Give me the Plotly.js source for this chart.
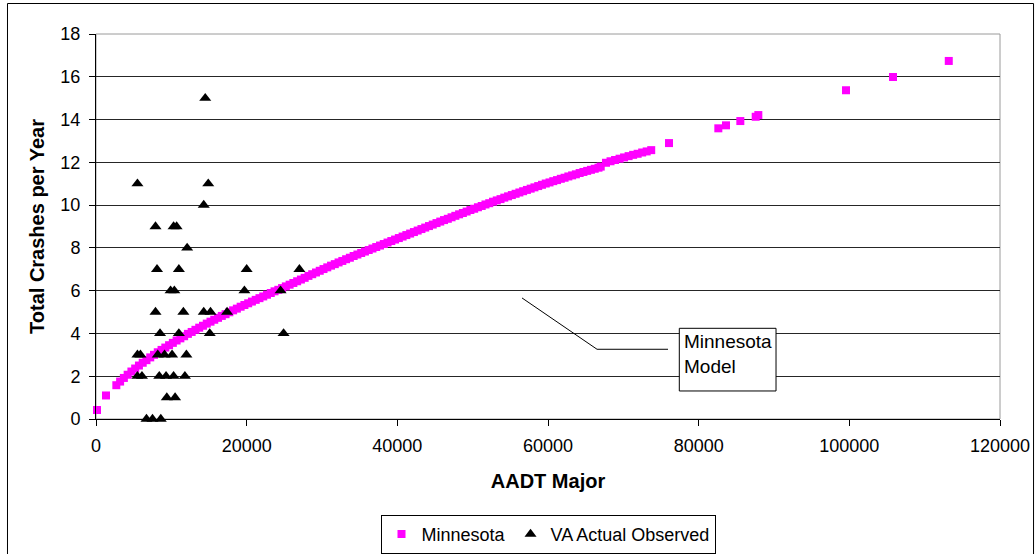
<!DOCTYPE html>
<html>
<head>
<meta charset="utf-8">
<script src="https://cdn.plot.ly/plotly-3.0.1.min.js"></script>
<style>
  html, body { margin: 0; padding: 0; background: #ffffff; }
  #chart { width: 1036px; height: 554px; }
</style>
</head>
<body>
<div id="chart"></div>
<script>
// Minnesota model: predicted total crashes per year against major-road AADT
const mnAadt = [
  130, 1330,
  2700, 3200, 3700, 4200, 4700, 5200, 5700, 6200, 6700, 7200,
  7700, 8200, 8700, 9200, 9700, 10200, 10700, 11200, 11700, 12200,
  12700, 13200, 13700, 14200, 14700, 15200, 15700, 16200, 16700, 17200,
  17700, 18200, 18700, 19200, 19700, 20200, 20700, 21200, 21700, 22200,
  22700, 23200, 23700, 24200, 24700,
  25200, 25700, 26200, 26700, 27200, 27700, 28200, 28700, 29200, 29700,
  30200, 30700, 31200, 31700, 32200, 32700, 33200, 33700, 34200, 34700,
  35200, 35700, 36200, 36700, 37200, 37700, 38200, 38700, 39200, 39700,
  40200, 40700, 41200, 41700, 42200, 42700, 43200, 43700, 44200, 44700,
  45200, 45700, 46200, 46700, 47200, 47700, 48200, 48700, 49200, 49700,
  50200, 50700, 51200, 51700, 52200, 52700, 53200, 53700, 54200, 54700,
  55200, 55700, 56200, 56700, 57200, 57700, 58200, 58700, 59200, 59700,
  60200, 60700, 61200, 61700, 62200, 62700, 63200, 63700, 64200, 64700,
  65200, 65700, 66200, 66700, 67000,
  67700, 68300, 68900, 69500, 70100, 70700, 71300, 71900, 72500, 73100, 73700,
  76060, 82610, 83630, 85530, 87570, 87920, 99560, 105800, 113200
];
const mnCrashes = [
  0.42, 1.10,
  1.58, 1.75, 1.92, 2.07, 2.22, 2.36, 2.50, 2.63, 2.75, 2.88,
  3.00, 3.12, 3.23, 3.34, 3.45, 3.56, 3.67, 3.77, 3.87, 3.98,
  4.07, 4.17, 4.27, 4.36, 4.46, 4.55, 4.64, 4.73, 4.82, 4.90,
  4.99, 5.08, 5.16, 5.25, 5.33, 5.41, 5.49, 5.57, 5.65, 5.73,
  5.81, 5.89, 5.97, 6.04, 6.12,
  6.20, 6.28, 6.36, 6.44, 6.52, 6.60, 6.69, 6.77, 6.85, 6.93,
  7.01, 7.09, 7.17, 7.24, 7.32, 7.39, 7.47, 7.54, 7.62, 7.69,
  7.76, 7.83, 7.90, 7.97, 8.04, 8.11, 8.18, 8.25, 8.32, 8.39,
  8.46, 8.53, 8.60, 8.67, 8.74, 8.81, 8.88, 8.95, 9.02, 9.09,
  9.16, 9.23, 9.30, 9.36, 9.43, 9.50, 9.57, 9.63, 9.70, 9.77,
  9.83, 9.90, 9.96, 10.03, 10.09, 10.16, 10.22, 10.28, 10.35, 10.41,
  10.47, 10.53, 10.59, 10.65, 10.71, 10.77, 10.83, 10.89, 10.95, 11.01,
  11.06, 11.12, 11.17, 11.23, 11.28, 11.34, 11.39, 11.44, 11.50, 11.55,
  11.60, 11.65, 11.70, 11.75, 11.80,
  11.98, 12.05, 12.11, 12.17, 12.23, 12.29, 12.35, 12.40, 12.46, 12.51, 12.57,
  12.90, 13.59, 13.73, 13.93, 14.13, 14.21, 15.37, 15.99, 16.74
];

// Virginia sites: observed crashes per year
const vaAadt = [
  14500,
  5500, 14900,
  14300,
  7900, 10300, 10700,
  12100,
  8100, 11000, 20000, 27000,
  9900, 10400, 19700, 24500,
  7900, 11600, 14300, 15200, 17400,
  8500, 11000, 15100, 24900,
  5500, 5900, 8200, 9100, 10100, 12000,
  5500, 6100, 8400, 9300, 10300, 11800,
  9400, 10500,
  6700, 7500, 8600
];
const vaCrashes = [
  15,
  11, 11,
  10,
  9, 9, 9,
  8,
  7, 7, 7, 7,
  6, 6, 6, 6,
  5, 5, 5, 5, 5,
  4, 4, 4, 4,
  3, 3, 3, 3, 3, 3,
  2, 2, 2, 2, 2, 2,
  1, 1,
  0, 0, 0
];

const xTickVals = [0, 20000, 40000, 60000, 80000, 100000, 120000];
const xTickText = ['0', '20000', '40000', '60000', '80000', '100000', '120000'];
const yTickVals = [0, 2, 4, 6, 8, 10, 12, 14, 16, 18];
const yTickText = ['0', '2', '4', '6', '8', '10', '12', '14', '16', '18'];

// Callout for the model curve: leader line and label box (axis units)
const calloutLine = [[56550, 5.66], [66510, 3.26], [75930, 3.26]];
const calloutBox = { x0: 77430, x1: 90270, y0: 1.31, y1: 4.24 };
const calloutText = 'Minnesota<br>Model';

const FONT = 'Liberation Sans, Arial, sans-serif';

const traces = [
  {
    type: 'scatter',
    mode: 'markers',
    name: 'Minnesota',
    x: mnAadt,
    y: mnCrashes,
    cliponaxis: false,
    marker: { symbol: 'square', size: 8, color: '#ff00ff', line: { width: 0 } }
  },
  {
    type: 'scatter',
    mode: 'markers',
    name: 'VA Actual Observed',
    x: vaAadt,
    y: vaCrashes,
    cliponaxis: false,
    marker: { symbol: 'triangle-up', size: 10.5, color: '#000000', line: { width: 0 } }
  }
];

const leaderPath = 'M' + calloutLine.map(p => p[0] + ',' + p[1]).join(' L');

const layout = {
  width: 1036,
  height: 554,
  margin: { l: 96, r: 36, t: 34, b: 135, pad: 0, autoexpand: false },
  paper_bgcolor: '#ffffff',
  plot_bgcolor: '#ffffff',
  font: { family: FONT, size: 18, color: '#000000' },
  showlegend: true,
  legend: {
    orientation: 'h',
    x: 0.5, xanchor: 'center',
    y: -0.249, yanchor: 'top',
    bgcolor: '#ffffff',
    bordercolor: '#000000',
    borderwidth: 1,
    itemwidth: 30,
    font: { family: FONT, size: 18, color: '#000000' }
  },
  xaxis: {
    range: [0, 120000],
    tickvals: xTickVals,
    ticktext: xTickText,
    ticks: 'outside',
    ticklen: 6,
    tickcolor: '#000000',
    ticklabelstandoff: 4,
    showline: true,
    linecolor: '#000000',
    linewidth: 1,
    showgrid: false,
    zeroline: false,
    tickfont: { family: FONT, size: 18 },
    title: { text: '<b>AADT Major</b>', font: { family: FONT, size: 20 }, standoff: 19 },
    automargin: false
  },
  yaxis: {
    range: [0, 18],
    tickvals: yTickVals,
    ticktext: yTickText,
    ticks: 'outside',
    ticklen: 6,
    tickcolor: '#000000',
    ticklabelstandoff: 5,
    showline: true,
    linecolor: '#000000',
    linewidth: 1,
    showgrid: true,
    gridcolor: '#262626',
    gridwidth: 1,
    zeroline: false,
    tickfont: { family: FONT, size: 18 },
    title: { text: '<b>Total Crashes per Year</b>', font: { family: FONT, size: 20 }, standoff: 10 },
    automargin: false
  },
  shapes: [
    // outer chart frame
    { type: 'rect', xref: 'paper', yref: 'paper', x0: -0.0979, x1: 1.0371, y0: -0.37, y1: 1.0792,
      line: { color: '#000000', width: 1 }, fillcolor: 'rgba(0,0,0,0)', layer: 'below' },
    // plot area frame
    { type: 'rect', xref: 'paper', yref: 'paper', x0: 0, x1: 1, y0: 0, y1: 1,
      line: { color: '#9a9a9a', width: 1 }, fillcolor: 'rgba(0,0,0,0)', layer: 'below' },
    // callout leader
    { type: 'path', xref: 'x', yref: 'y', path: leaderPath,
      line: { color: '#000000', width: 1 }, layer: 'above' },
    // callout box
    { type: 'rect', xref: 'x', yref: 'y',
      x0: calloutBox.x0, x1: calloutBox.x1, y0: calloutBox.y0, y1: calloutBox.y1,
      line: { color: '#000000', width: 1 }, fillcolor: '#ffffff', layer: 'above' }
  ],
  annotations: [
    {
      xref: 'x', yref: 'y',
      x: calloutBox.x0, y: calloutBox.y1,
      xanchor: 'left', yanchor: 'top',
      xshift: 3, yshift: -1,
      text: calloutText,
      align: 'left',
      showarrow: false,
      font: { family: FONT, size: 19, color: '#000000' }
    }
  ]
};

Plotly.newPlot('chart', traces, layout, { displayModeBar: false, staticPlot: true });
</script>
</body>
</html>
